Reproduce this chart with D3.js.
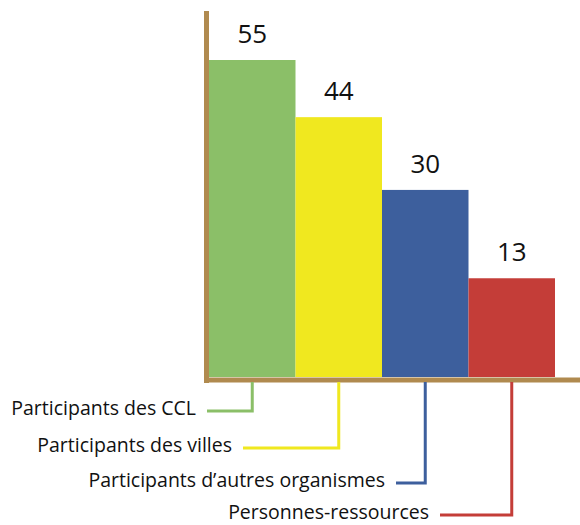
<!DOCTYPE html>
<html>
<head>
<meta charset="utf-8">
<script src="https://cdn.jsdelivr.net/npm/d3@7"></script>
<style>
  body { margin: 0; background: #fff; }
  svg { display: block; font-family: "Open Sans", sans-serif; }
</style>
</head>
<body>
<svg id="chart" width="580" height="525"></svg>
<script>
const categories = ['Participants des CCL', 'Participants des villes', 'Participants d’autres organismes', 'Personnes-ressources'];
const values = [55, 44, 30, 13];
const colors = ['#8bbf68', '#f0e81f', '#3d5f9d', '#c43d38'];

// where each category name sits (right end x, baseline y)
const labelPos = [[196, 415], [232, 452], [385, 487], [429, 519]];

const W = 580, H = 525;
const AXIS_COLOR = '#b08a4f';
const BASE = 377;

const svg = d3.select('#chart');

const xScale = d3.scaleBand()
    .domain(categories)
    .range([209, 555])
    .padding(0);

// baseline of the drawing is a little below zero
const yScale = d3.scaleLinear()
    .domain([-6, 55])
    .range([BASE, 60]);

// bars
svg.append('g').selectAll('rect')
    .data(values)
    .join('rect')
    .attr('x', (d, i) => xScale(categories[i]))
    .attr('width', xScale.bandwidth())
    .attr('y', d => yScale(d))
    .attr('height', d => BASE - yScale(d))
    .attr('fill', (d, i) => colors[i]);

// value labels
svg.append('g').selectAll('text')
    .data(values)
    .join('text')
    .attr('x', (d, i) => xScale(categories[i]) + xScale.bandwidth() / 2)
    .attr('y', d => yScale(d) - 17)
    .attr('text-anchor', 'middle')
    .attr('font-size', '26px')
    .attr('fill', '#111')
    .text(d => d);

// axes (plain thick lines)
svg.append('line')
    .attr('x1', 206.5).attr('x2', 206.5)
    .attr('y1', 11).attr('y2', 383)
    .attr('stroke', AXIS_COLOR)
    .attr('stroke-width', 5);
svg.append('line')
    .attr('x1', 204).attr('x2', W)
    .attr('y1', 380).attr('y2', 380)
    .attr('stroke', AXIS_COLOR)
    .attr('stroke-width', 5);

// leader lines + category labels
const leaders = svg.append('g');
categories.forEach((c, i) => {
    const cx = xScale(c) + xScale.bandwidth() / 2;
    const [lx, ly] = labelPos[i];
    const elbowY = ly - 4;
    leaders.append('polyline')
        .attr('points', `${cx},382 ${cx},${elbowY} ${lx + 11},${elbowY}`)
        .attr('fill', 'none')
        .attr('stroke', colors[i])
        .attr('stroke-width', 3);
    leaders.append('text')
        .attr('x', lx)
        .attr('y', ly)
        .attr('text-anchor', 'end')
        .attr('font-size', '19.5px')
        .attr('fill', '#111')
        .text(c);
});
</script>
</body>
</html>
